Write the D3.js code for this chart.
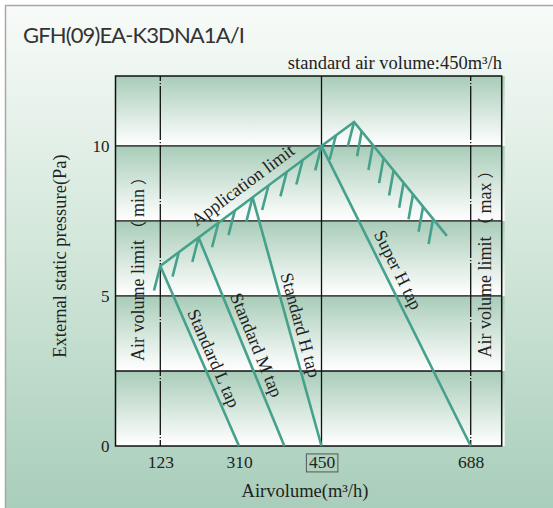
<!DOCTYPE html>
<html>
<head>
<meta charset="utf-8">
<script src="https://cdn.jsdelivr.net/npm/d3@7"></script>
<style>
body { margin: 0; background: #fff; }
svg { display: block; }
</style>
</head>
<body>
<div id="chart"></div>
<script>
var w = 553, h = 508;
var serif = "'Liberation Serif', 'Times New Roman', serif";
var cjk = "'Noto Sans CJK SC', 'Noto Sans CJK JP', sans-serif";
var teal = "#45a08c";

// axis breakpoints (the drawing's x spacing is not linear)
var xBreaks = [0, 123, 310, 450, 688, 740];
var xTicks = [123, 310, 450, 688];
var yTicks = [0, 5, 10];
var yBands = [0, 2.5, 5, 7.5, 10, 12.33];

// application limit line (airvolume, pressure)
var limitRise = [[123, 6], [310, 7.95], [450, 10], [502, 10.8]];
var limitFall = [[502, 10.8], [650, 7.0]];

// fan taps
var tapL = [[123, 6], [310, 0]];
var tapM = [[214, 6.95], [387, 0]];
var tapH = [[333, 8.29], [450, 0]];
var tapSH = [[450, 10], [688, 0]];
var tapNames = ["Standard L tap", "Standard M tap", "Standard H tap", "Super H tap"];

// hatch positions along the limit line
var hatchRise = [123, 167, 214, 261, 300, 333, 360, 391, 418, 450, 473, 502];
var hatchFall = [514, 532, 549, 565, 581, 596, 612, 628];

var svg = d3.select("#chart").append("svg")
    .attr("width", w)
    .attr("height", h);

var x = d3.scaleLinear()
    .domain(xBreaks)
    .range([115.5, 160.3, 239, 321.5, 470.7, 501.7]);
var y = d3.scaleLinear()
    .domain([0, 12.33])
    .range([446, 76]);

var defs = svg.append("defs");
var bg = defs.append("linearGradient").attr("id", "bg")
    .attr("x1", 0).attr("y1", 0).attr("x2", 0).attr("y2", 1);
bg.append("stop").attr("offset", 0).attr("stop-color", "#f8fbf9");
bg.append("stop").attr("offset", 0.5).attr("stop-color", "#d1e6d9");
bg.append("stop").attr("offset", 1).attr("stop-color", "#a9cebb");

var band = defs.append("linearGradient").attr("id", "band")
    .attr("x1", 0).attr("y1", 0).attr("x2", 0).attr("y2", 1);
band.append("stop").attr("offset", 0).attr("stop-color", "#a8ccb8");
band.append("stop").attr("offset", 0.85).attr("stop-color", "#f3f8f5");
band.append("stop").attr("offset", 1).attr("stop-color", "#ffffff");

// outer panel
svg.append("rect")
    .attr("x", 5).attr("y", 5)
    .attr("width", w - 5).attr("height", h - 5)
    .attr("fill", "url(#bg)");
svg.append("path")
    .attr("d", "M5.5," + h + "V5.5H" + w)
    .attr("fill", "none")
    .attr("stroke", "#a8a8a8")
    .attr("stroke-width", 1.5);

// bands
svg.selectAll(".band")
    .data(d3.pairs(yBands))
    .enter()
    .append("rect")
    .attr("class", "band")
    .attr("x", x(xBreaks[0]))
    .attr("y", function(d) { return y(d[1]); })
    .attr("width", x(xBreaks[xBreaks.length - 1]) - x(xBreaks[0]) + 3)
    .attr("height", function(d) { return y(d[0]) - y(d[1]); })
    .attr("fill", "url(#band)");

// horizontal grid
svg.selectAll(".hgrid")
    .data(yBands.slice(1, -1))
    .enter()
    .append("line")
    .attr("class", "hgrid")
    .attr("x1", x(xBreaks[0]))
    .attr("x2", x(xBreaks[xBreaks.length - 1]))
    .attr("y1", function(d) { return y(d); })
    .attr("y2", function(d) { return y(d); })
    .attr("stroke", "#111")
    .attr("stroke-width", 1.3);

// vertical grid: 450 solid, limits dash-dot
svg.selectAll(".vgrid")
    .data(xTicks.filter(function(d) { return d != 310; }))
    .enter()
    .append("line")
    .attr("class", "vgrid")
    .attr("x1", function(d) { return x(d); })
    .attr("x2", function(d) { return x(d); })
    .attr("y1", y(12.33))
    .attr("y2", y(0))
    .attr("stroke", "#111")
    .attr("stroke-width", 1.3)
    .attr("stroke-dasharray", function(d) { return d == 450 ? null : "54,2,1.2,1.8"; })
    .attr("stroke-dashoffset", 49);

// frame
svg.append("rect")
    .attr("x", x(xBreaks[0]))
    .attr("y", y(12.33))
    .attr("width", x(xBreaks[xBreaks.length - 1]) - x(xBreaks[0]))
    .attr("height", y(0) - y(12.33))
    .attr("fill", "none")
    .attr("stroke", "#111")
    .attr("stroke-width", 1.5);

var line = d3.line()
    .x(function(d) { return x(d[0]); })
    .y(function(d) { return y(d[1]); });

function pointOn(pts, q) {
    var px = x(q);
    for (var i = 0; i < pts.length - 1; ++i) {
        var a = [x(pts[i][0]), y(pts[i][1])], b = [x(pts[i + 1][0]), y(pts[i + 1][1])];
        if (px >= a[0] - 0.01 && px <= b[0] + 0.01) {
            var t = (px - a[0]) / (b[0] - a[0]);
            return [px, a[1] + t * (b[1] - a[1])];
        }
    }
    return [px, y(pts[pts.length - 1][1])];
}

// hatches
var hatches = hatchRise.map(function(q) { return { p: pointOn(limitRise, q), dx: -6.3, dy: 24.5 }; })
    .concat(hatchFall.map(function(q) { return { p: pointOn(limitFall, q), dx: -4.5, dy: 25 }; }));
svg.selectAll(".hatch")
    .data(hatches)
    .enter()
    .append("line")
    .attr("class", "hatch")
    .attr("x1", function(d) { return d.p[0]; })
    .attr("y1", function(d) { return d.p[1]; })
    .attr("x2", function(d) { return d.p[0] + d.dx; })
    .attr("y2", function(d) { return d.p[1] + d.dy; })
    .attr("stroke", teal)
    .attr("stroke-width", 2.6);

// lines
svg.selectAll(".tap")
    .data([limitRise.concat(limitFall.slice(1)), tapL, tapM, tapH, tapSH])
    .enter()
    .append("path")
    .attr("class", "tap")
    .attr("d", line)
    .attr("fill", "none")
    .attr("stroke", teal)
    .attr("stroke-width", 2.6)
    .attr("stroke-linejoin", "miter");

function along(pts, t, off) {
    var a = [x(pts[0][0]), y(pts[0][1])], b = [x(pts[1][0]), y(pts[1][1])];
    var dx = b[0] - a[0], dy = b[1] - a[1], len = Math.sqrt(dx * dx + dy * dy);
    var ux = dx / len, uy = dy / len;
    return {
        x: a[0] + ux * t * len + uy * off,
        y: a[1] + uy * t * len - ux * off,
        angle: Math.atan2(dy, dx) * 180 / Math.PI
    };
}

var labels = [
    { text: "Application limit", pos: along([limitRise[0], limitRise[2]], 0.569, 15.9) },
    { text: tapNames[0], pos: along(tapL, 0.54, 12.2) },
    { text: tapNames[1], pos: along(tapM, 0.539, 12.9) },
    { text: tapNames[2], pos: along(tapH, 0.527, 12.3) },
    { text: tapNames[3], pos: along(tapSH, 0.433, 13.6) }
];
svg.selectAll(".lbl")
    .data(labels)
    .enter()
    .append("text")
    .attr("class", "lbl")
    .attr("transform", function(d) { return "translate(" + d.pos.x + "," + d.pos.y + ") rotate(" + d.pos.angle + ")"; })
    .attr("dy", "0.35em")
    .attr("text-anchor", "middle")
    .attr("font-family", serif)
    .attr("font-size", 18)
    .attr("fill", "#222")
    .text(function(d) { return d.text; });

// air volume limits
function limitLabel(tx, ty, word) {
    var t = svg.append("text")
        .attr("transform", "translate(" + tx + "," + ty + ") rotate(-90)")
        .attr("text-anchor", "middle")
        .attr("font-family", serif)
        .attr("font-size", 18)
        .attr("fill", "#222");
    t.append("tspan").text("Air volume limit");
    t.append("tspan").attr("dx", 3).attr("font-family", cjk).attr("font-size", 16).text("（");
    t.append("tspan").attr("dx", 4).text(word);
    t.append("tspan").attr("dx", 4).attr("font-family", cjk).attr("font-size", 16).text("）");
}
limitLabel(144, 265, "min");
limitLabel(491, 260, "max");

// axes
var xAxis = d3.axisBottom(x).tickValues(xTicks).tickSize(0).tickPadding(10).tickFormat(d3.format("d"));
var gx = svg.append("g")
    .attr("transform", "translate(0," + y(0) + ")")
    .call(xAxis);
gx.select(".domain").remove();
gx.selectAll("text")
    .attr("font-family", serif)
    .attr("font-size", 17.5)
    .attr("fill", "#222");
gx.selectAll(".tick").filter(function(d) { return d == 450; })
    .each(function() {
        var bb = d3.select(this).select("text").node().getBBox();
        d3.select(this).insert("rect", "text")
            .attr("x", bb.x - 2.5)
            .attr("y", bb.y + 1.5)
            .attr("width", bb.width + 5)
            .attr("height", bb.height - 2)
            .attr("fill", "none")
            .attr("stroke", "#555")
            .attr("stroke-width", 1);
    });

var yAxis = d3.axisLeft(y).tickValues(yTicks).tickSize(0).tickPadding(6);
var gy = svg.append("g")
    .attr("transform", "translate(" + x(xBreaks[0]) + ",0)")
    .call(yAxis);
gy.select(".domain").remove();
gy.selectAll("text")
    .attr("font-family", serif)
    .attr("font-size", 17)
    .attr("fill", "#222");

// titles
svg.append("text")
    .attr("x", 23)
    .attr("y", 43)
    .attr("font-family", "Lato, 'Open Sans', sans-serif")
    .attr("font-size", 22)
    .attr("textLength", 222)
    .attr("fill", "#333")
    .text("GFH(09)EA-K3DNA1A/I");
svg.append("text")
    .attr("x", 502)
    .attr("y", 69)
    .attr("text-anchor", "end")
    .attr("font-family", serif)
    .attr("font-size", 18.5)
    .attr("fill", "#222")
    .text("standard air volume:450m³/h");
svg.append("text")
    .attr("x", 305)
    .attr("y", 497)
    .attr("text-anchor", "middle")
    .attr("font-family", serif)
    .attr("font-size", 18.5)
    .attr("fill", "#222")
    .text("Airvolume(m³/h)");
svg.append("text")
    .attr("transform", "translate(66,256) rotate(-90)")
    .attr("text-anchor", "middle")
    .attr("font-family", serif)
    .attr("font-size", 18.5)
    .attr("fill", "#222")
    .text("External static pressure(Pa)");
</script>
</body>
</html>
